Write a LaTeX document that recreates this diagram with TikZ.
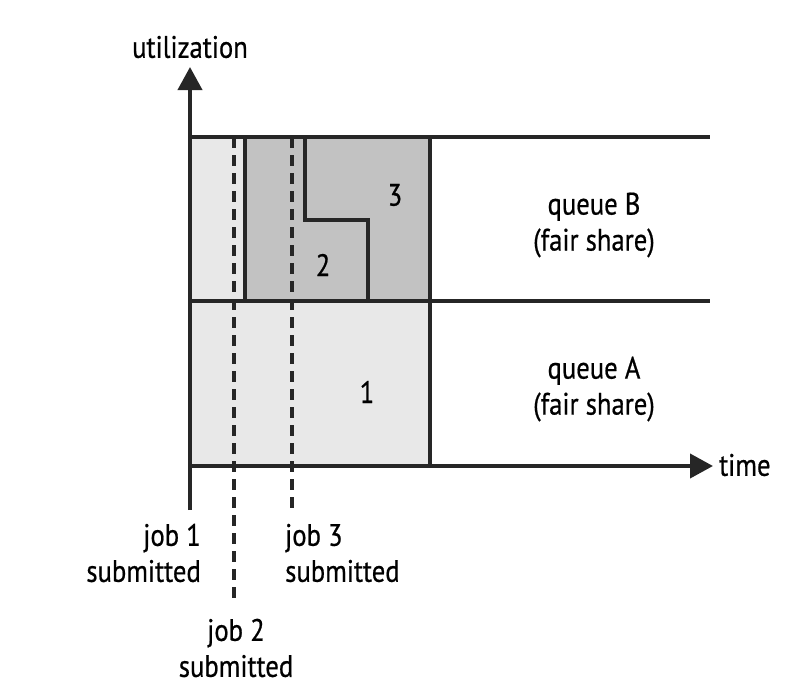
\documentclass[tikz,border=0pt]{standalone}
\usepackage{fontspec}
\setmainfont{PT Sans}[FakeStretch=0.86,FakeBold=0.6]
\usetikzlibrary{arrows.meta}
\begin{document}
\begin{tikzpicture}[x=1pt,y=-1pt,
  lbl/.style={font=\fontsize{31}{36}\selectfont, inner sep=0pt, align=center},
  solidline/.style={line width=4pt, black!85},
  jobdash/.style={line width=3.8pt, black!85, dash pattern=on 11pt off 7pt},
  lightfill/.style={fill=black!9},
  darkfill/.style={fill=black!24},
  axisarrow/.style={solidline, -{Triangle[width=24pt,length=23pt]}}]
\useasboundingbox (0,0) rectangle (808,699);
% fills
\fill[lightfill] (190,301) rectangle (430,466);
\fill[lightfill] (190,137) rectangle (245,301);
\fill[darkfill] (245,137) rectangle (430,301);
% coordinates
\coordinate (o) at (190,466);
\coordinate (ybot) at (190,510);
\coordinate (ytop) at (190,67);
\coordinate (xend) at (713,466);
\coordinate (tl) at (190,137);
\coordinate (tr) at (710,137);
\coordinate (ml) at (190,301);
\coordinate (mr) at (710,301);
\coordinate (rt) at (430,137);
\coordinate (rb) at (430,466);
\coordinate (st) at (245,137);
\coordinate (sb) at (245,301);
\coordinate (s1) at (305,137);
\coordinate (s2) at (305,220);
\coordinate (s3) at (368,220);
\coordinate (s4) at (368,301);
\coordinate (j2t) at (234,137);
\coordinate (j2b) at (234,602);
\coordinate (j3t) at (292,137);
\coordinate (j3b) at (292,508);
% dashed job lines
\draw[jobdash] (j2t) -- (j2b);
\draw[jobdash] (j3t) -- (j3b);
% solid lines
\draw[solidline] (tl) -- (tr);
\draw[solidline] (ml) -- (mr);
\draw[solidline] (rt) -- (rb);
\draw[solidline] (st) -- (sb);
\draw[solidline] (s1) -- (s2) -- (s3) -- (s4);
\draw[axisarrow] (ybot) -- (ytop);
\draw[axisarrow] ([xshift=-2pt]o) -- (xend);
% labels
\node[lbl] (util) at (190,47) {utilization};
\node[lbl, anchor=west] (time) at (719,465) {time};
\node[lbl] (qb) at (594,225) {queue B\\(fair share)};
\node[lbl] (qa) at (594,389) {queue A\\(fair share)};
\node[lbl] (n3) at (395,195) {3};
\node[lbl] (n2) at (323,265) {2};
\node[lbl] (n1) at (367,392) {1};
\node[lbl, align=right, anchor=east] (j1) at (201,553) {job 1\\submitted};
\node[lbl, align=left, anchor=west] (j3) at (285,553) {job 3\\submitted};
\node[lbl] (j2) at (236,648) {job 2\\submitted};
\end{tikzpicture}
\end{document}
